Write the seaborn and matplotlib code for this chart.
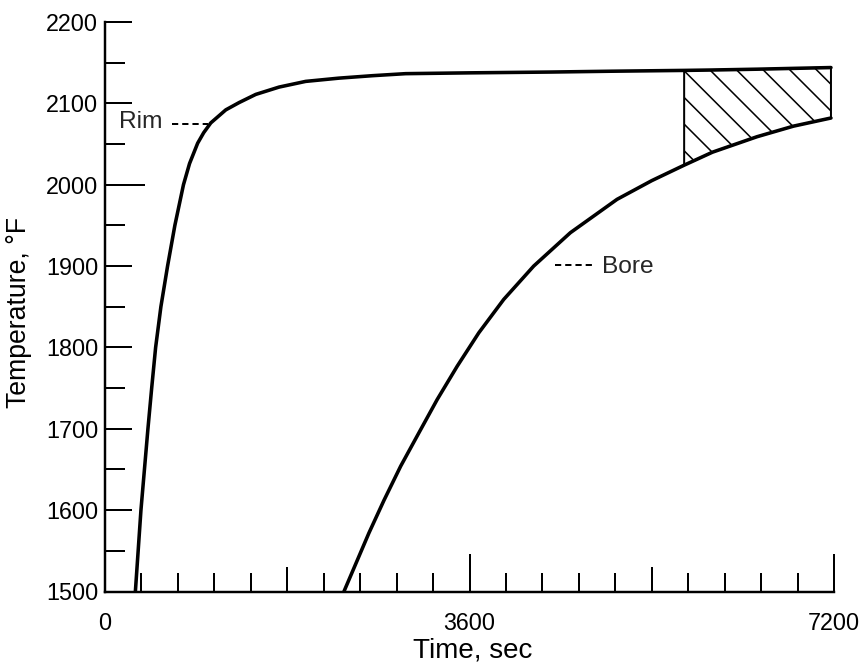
import numpy as np
import pandas as pd
import matplotlib
matplotlib.use("Agg")
import matplotlib.pyplot as plt
import seaborn as sns

# values (time in sec, temperature in deg F)
rim_time = [300, 355, 424, 461, 500, 552, 618, 690, 775, 835, 915, 975, 1045, 1193, 1325, 1489,
            1719, 1982, 2311, 2640, 2969, 3600, 4410, 5000, 5720, 6000, 6440, 6800, 7170]
rim_temp = [1500, 1600, 1700, 1750, 1800, 1850, 1900, 1950, 2000, 2026, 2051, 2064, 2076, 2092, 2101, 2111,
            2120, 2127, 2131, 2134, 2136.5, 2137.5, 2138.5, 2139.5, 2140.5, 2141, 2142, 2143, 2144]
bore_time = [2360, 2607, 2755, 2920, 3100, 3281, 3479, 3692, 3938, 4234, 4596, 5057, 5400,
             5720, 6000, 6440, 6800, 7170]
bore_temp = [1500, 1572, 1612, 1654, 1695, 1736, 1777, 1818, 1859, 1900, 1941, 1982, 2005,
             2024, 2040, 2059, 2072, 2082]
hatch_start = 5720

x_ticks = [0, 1800, 3600, 5400, 7200]
x_tick_labels = ["0", "", "3600", "", "7200"]
y_ticks = [1500, 1600, 1700, 1800, 1900, 2000, 2100, 2200]

sns.set_theme(style="ticks")
plt.rcParams["font.family"] = ["Liberation Sans", "DejaVu Sans"]
plt.rcParams["hatch.linewidth"] = 0.7
plt.rcParams["lines.scale_dashes"] = False

rim = pd.DataFrame({"time": rim_time, "temp": rim_temp})
bore = pd.DataFrame({"time": bore_time, "temp": bore_temp})

fig = plt.figure(figsize=(866 / 160, 664 / 160), dpi=160)
ax = fig.add_axes([105 / 866, (664 - 591.5) / 664, 729 / 866, 569.5 / 664])

# hatched band between the two curves
band = rim.merge(bore, on="time", suffixes=("_rim", "_bore"))
band = band[band["time"] >= hatch_start]
ax.fill_between(band["time"], band["temp_bore"], band["temp_rim"], facecolor="none",
                edgecolor="black", hatch="\\\\", linewidth=0.9)

sns.lineplot(data=rim, x="time", y="temp", color="black", lw=1.6, estimator=None, sort=False, ax=ax)
sns.lineplot(data=bore, x="time", y="temp", color="black", lw=1.6, estimator=None, sort=False, ax=ax)

# labels with dashed leaders
rim_x = np.interp(2075, rim_temp, rim_time)
ax.plot([rim_x - 380, rim_x - 20], [2075, 2075], color="black", lw=0.9, ls=(0, (2.8, 1.8)))
ax.text(rim_x - 470, 2077, "Rim", ha="right", va="center", fontsize=11)
bore_x = np.interp(1901, bore_temp, bore_time)
ax.plot([bore_x + 200, bore_x + 570], [1901, 1901], color="black", lw=0.9, ls=(0, (2.8, 1.8)))
ax.text(bore_x + 670, 1899, "Bore", ha="left", va="center", fontsize=11)

ax.set_xlim(0, 7200)
ax.set_ylim(1500, 2200)
ax.set_xticks(x_ticks)
ax.set_xticklabels(x_tick_labels)
ax.set_xticks(np.arange(0, 7201, 360), minor=True)
ax.set_yticks(y_ticks)
ax.set_yticklabels([str(v) for v in y_ticks])
ax.set_yticks(np.arange(1500, 2201, 50), minor=True)

ax.tick_params(which="both", direction="in", width=0.9, color="black", labelsize=10.5, labelcolor="black")
ax.tick_params(axis="x", which="major", length=11.3, pad=9)
ax.tick_params(axis="x", which="minor", length=8.5)
ax.tick_params(axis="y", which="major", length=12.2, pad=3)
ax.tick_params(axis="y", which="minor", length=9)

# longer ticks at a few positions, as in the original
for t in ax.xaxis.get_major_ticks():
    if t.get_loc() in (3600, 7200):
        t.tick1line.set_markersize(17)
for t in ax.yaxis.get_major_ticks():
    if t.get_loc() == 2000:
        t.tick1line.set_markersize(18)

sns.despine(ax=ax)
for s in ("left", "bottom"):
    ax.spines[s].set_linewidth(1.1)
    ax.spines[s].set_color("black")

ax.set_xlabel("Time, sec", fontsize=12.5, color="black")
ax.set_ylabel("Temperature, \u00b0F", fontsize=12, color="black")
ax.xaxis.set_label_coords(0.505, -0.08)
ax.yaxis.set_label_coords(-0.1, 0.49)

fig.savefig("out.png", dpi=160, facecolor="white")
